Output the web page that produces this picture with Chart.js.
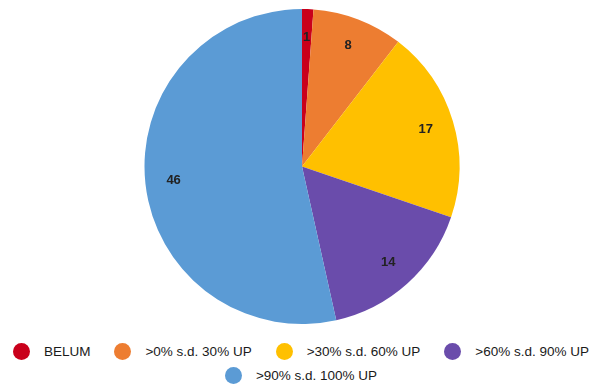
<!DOCTYPE html>
<html>
<head>
<meta charset="utf-8">
<script src="https://cdn.jsdelivr.net/npm/chart.js@4/dist/chart.umd.min.js"></script>
<style>
  html, body { margin: 0; padding: 0; background: #fff; }
  .pie-wrap { position: relative; width: 596px; height: 385px; font-family: "Liberation Sans", Arial, sans-serif; }
  .pie-canvas-box { position: absolute; left: 0; top: 0; width: 596px; height: 340px; }
  .pie-legend { position: absolute; left: 0; top: 341px; width: 596px; display: flex; flex-wrap: wrap; justify-content: center; row-gap: 4px; column-gap: 24px; padding-left: 6px; box-sizing: border-box; }
  .pie-legend-item { display: flex; align-items: center; height: 20px; font-size: 13.5px; color: #1a1a1a; white-space: nowrap; }
  .pie-legend-dot { width: 17px; height: 17px; border-radius: 50%; margin-right: 14px; flex-shrink: 0; }
</style>
</head>
<body>
<div class="pie-wrap">
  <div class="pie-canvas-box"><canvas id="pie"></canvas></div>
  <div class="pie-legend" id="pie-legend"></div>
</div>
<script>
const categories = ['BELUM', '>0% s.d. 30% UP', '>30% s.d. 60% UP', '>60% s.d. 90% UP', '>90% s.d. 100% UP']
const counts = [1, 8, 17, 14, 46]
const colors = ['#c9001b', '#ed7d31', '#ffc000', '#6a4cab', '#5b9bd5']

// ── Value labels inside each slice ──────────────────────────────────────────
const sliceLabels = {
  id: 'sliceLabels',
  afterDatasetsDraw(chart) {
    const { ctx } = chart
    const meta = chart.getDatasetMeta(0)
    ctx.save()
    ctx.font = 'bold 13px "Liberation Sans", Arial, sans-serif'
    ctx.fillStyle = '#222'
    ctx.textAlign = 'center'
    ctx.textBaseline = 'middle'
    meta.data.forEach((arc, i) => {
      const { x, y, startAngle, endAngle, outerRadius } = arc.getProps(['x', 'y', 'startAngle', 'endAngle', 'outerRadius'], true)
      const mid = (startAngle + endAngle) / 2
      const r = outerRadius * 0.82
      ctx.fillText(String(counts[i]), x + Math.cos(mid) * r, y + Math.sin(mid) * r)
    })
    ctx.restore()
  }
}

// ── HTML legend built from the chart's own legend items ─────────────────────
const htmlLegend = {
  id: 'htmlLegend',
  afterUpdate(chart) {
    const box = document.getElementById('pie-legend')
    box.innerHTML = ''
    const items = chart.options.plugins.legend.labels.generateLabels(chart)
    items.forEach(item => {
      const el = document.createElement('div')
      el.className = 'pie-legend-item'
      const dot = document.createElement('span')
      dot.className = 'pie-legend-dot'
      dot.style.background = item.fillStyle
      const txt = document.createElement('span')
      txt.textContent = item.text
      el.appendChild(dot)
      el.appendChild(txt)
      box.appendChild(el)
    })
  }
}

new Chart(document.getElementById('pie'), {
  type: 'pie',
  data: {
    labels: categories,
    datasets: [{
      data: counts,
      backgroundColor: colors,
      borderWidth: 0
    }]
  },
  options: {
    responsive: true,
    maintainAspectRatio: false,
    animation: false,
    layout: { padding: { top: 9, bottom: 16, left: 8, right: 0 } },
    plugins: {
      legend: { display: false },
      tooltip: { enabled: false }
    }
  },
  plugins: [sliceLabels, htmlLegend]
})
</script>
</body>
</html>
